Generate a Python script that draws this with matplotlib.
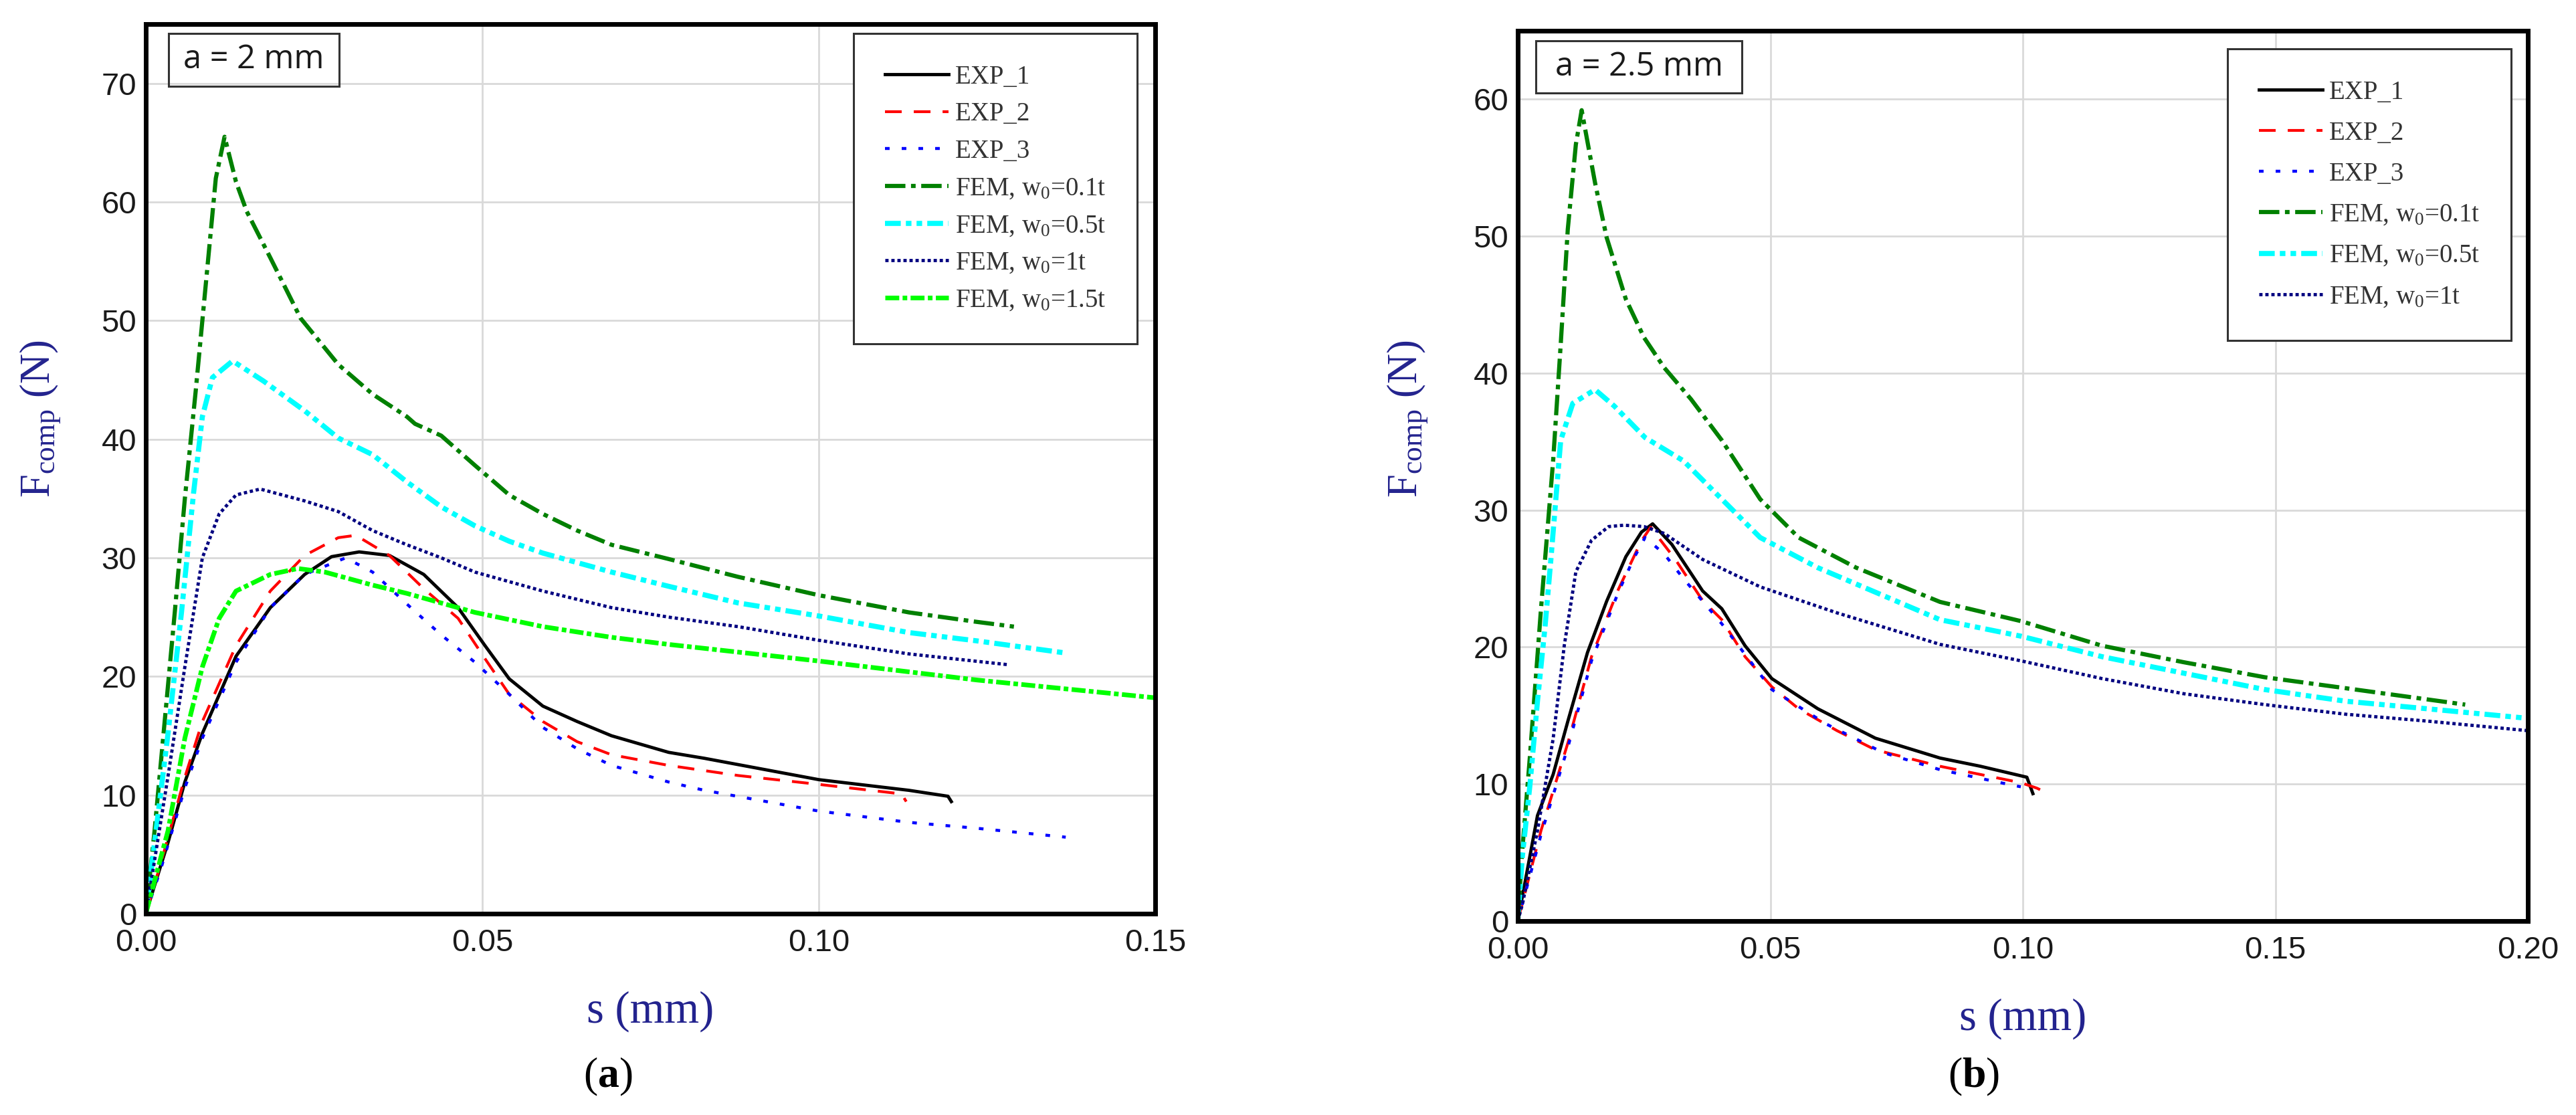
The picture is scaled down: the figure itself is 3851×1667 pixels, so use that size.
import matplotlib
matplotlib.use("Agg")
import matplotlib.pyplot as plt
from matplotlib.patches import Rectangle

plt.rcParams['lines.scale_dashes'] = False
plt.rcParams['mathtext.fontset'] = 'custom'
plt.rcParams['mathtext.rm'] = 'Liberation Serif'
plt.rcParams['mathtext.it'] = 'Liberation Serif:italic'
plt.rcParams['mathtext.bf'] = 'Liberation Serif:bold'

# ---- panel (a): a = 2 mm ----
a_exp1_s = [0, 0.0023, 0.0033, 0.0058, 0.0084, 0.0134, 0.0185, 0.0236, 0.0276, 0.0317, 0.0362, 0.0413,
            0.0464, 0.0504, 0.054, 0.059, 0.0641, 0.0692, 0.0777, 0.083, 0.100, 0.1134, 0.1192, 0.1197]
a_exp1_F = [0, 4.2, 6.0, 11.1, 15.2, 21.7, 25.8, 28.6, 30.1, 30.5, 30.2, 28.6,
            25.8, 22.6, 19.8, 17.5, 16.2, 15.0, 13.6, 13.1, 11.3, 10.4, 9.9, 9.45]

a_exp2_s = [0, 0.0023, 0.0058, 0.0084, 0.0134, 0.0185, 0.0236, 0.0286, 0.0312, 0.0362, 0.0413,
            0.0464, 0.0504, 0.054, 0.059, 0.0641, 0.0692, 0.0777, 0.088, 0.100, 0.1123, 0.113]
a_exp2_F = [0, 4.4, 11.5, 16.2, 22.6, 27.2, 30.2, 31.7, 31.9, 30.2, 27.4,
            24.9, 21.5, 18.5, 16.2, 14.5, 13.4, 12.5, 11.65, 10.9, 10.1, 9.45]

a_exp3_s = [0, 0.0023, 0.0058, 0.0084, 0.0134, 0.0185, 0.0236, 0.0297, 0.0337, 0.0388, 0.0439,
            0.0489, 0.054, 0.059, 0.0641, 0.0692, 0.0777, 0.083, 0.100, 0.1134, 0.1235, 0.1367]
a_exp3_F = [0, 3.9, 10.6, 14.8, 21.2, 25.8, 28.6, 30.0, 28.8, 26.1, 23.5,
            21.2, 18.5, 15.7, 13.9, 12.5, 11.1, 10.4, 8.65, 7.7, 7.2, 6.45]

a_fem01_s = [0, 0.0013, 0.0028, 0.0043, 0.0058, 0.0074, 0.0089, 0.0104, 0.0117, 0.0134, 0.0150, 0.0185,
             0.0230, 0.0286, 0.0337, 0.0388, 0.0400, 0.0439, 0.0489, 0.054, 0.059, 0.0641, 0.0692,
             0.0777, 0.088, 0.100, 0.1134, 0.1235, 0.129]
a_fem01_F = [0, 7, 16.2, 25.4, 35, 44, 53, 62, 65.5, 61.7, 59.2, 55.3,
             50.2, 46.3, 43.8, 41.9, 41.3, 40.3, 37.8, 35.3, 33.7, 32.3, 31.1,
             29.9, 28.4, 26.85, 25.4, 24.6, 24.2]

a_fem05_s = [0, 0.0013, 0.0033, 0.0053, 0.0071, 0.0084, 0.0099, 0.0129, 0.0175, 0.0236, 0.0286, 0.0337,
             0.0388, 0.0439, 0.0489, 0.054, 0.059, 0.0692, 0.0777, 0.088, 0.100, 0.1134, 0.1235, 0.1364]
a_fem05_F = [0, 6.0, 15.2, 25.4, 35.5, 41.9, 45.2, 46.6, 44.9, 42.4, 40.1, 38.7,
             36.4, 34.3, 32.7, 31.4, 30.4, 28.8, 27.6, 26.2, 25.1, 23.7, 23.0, 22.0]

a_fem1_s = [0, 0.0013, 0.0033, 0.0058, 0.0084, 0.0109, 0.0134, 0.017, 0.0236, 0.0286, 0.0337,
            0.0388, 0.0439, 0.0489, 0.059, 0.0692, 0.0777, 0.088, 0.100, 0.1134, 0.128]
a_fem1_F = [0, 4.5, 11.6, 20.8, 30.0, 33.7, 35.3, 35.8, 34.8, 33.9, 32.3,
            31.1, 30.0, 28.8, 27.2, 25.8, 25.0, 24.2, 23.05, 21.9, 21.0]

a_fem15_s = [0, 0.0033, 0.0058, 0.0084, 0.0109, 0.0134, 0.0185, 0.0226, 0.0266, 0.0337, 0.0388,
             0.0489, 0.059, 0.0692, 0.0777, 0.100, 0.1235, 0.150]
a_fem15_F = [0, 7.0, 14.8, 20.8, 24.9, 27.2, 28.6, 29.1, 28.8, 27.7, 27.0,
             25.4, 24.2, 23.3, 22.7, 21.3, 19.7, 18.2]

# ---- panel (b): a = 2.5 mm ----
b_exp1_s = [0, 0.0039, 0.0070, 0.0100, 0.0138, 0.0176, 0.0214, 0.0245, 0.0267, 0.0305, 0.0366,
            0.0404, 0.045, 0.0503, 0.0594, 0.0708, 0.0836, 0.0916, 0.1008, 0.102]
b_exp1_F = [0, 7.7, 10.7, 14.7, 19.6, 23.35, 26.6, 28.4, 29.0, 27.5, 24.1,
            22.8, 20.1, 17.7, 15.5, 13.35, 11.9, 11.3, 10.5, 9.3]

b_exp2_s = [0, 0.0046, 0.0100, 0.0146, 0.0199, 0.0244, 0.0263, 0.0312, 0.0366, 0.0404, 0.045,
            0.0503, 0.0556, 0.0632, 0.0708, 0.0836, 0.0996, 0.1028, 0.1045]
b_exp2_F = [0, 6.6, 13.1, 19.3, 24.2, 27.7, 28.75, 26.4, 23.4, 22.0, 19.3,
            17.1, 15.5, 13.9, 12.5, 11.3, 10.1, 9.7, 9.4]

b_exp3_s = [0, 0.0046, 0.0100, 0.0146, 0.0199, 0.0230, 0.0252, 0.0290, 0.0328, 0.0404, 0.0503,
            0.061, 0.0723, 0.0836, 0.0956, 0.0996]
b_exp3_F = [0, 6.3, 12.8, 19.0, 24.0, 26.5, 28.0, 26.8, 25.0, 21.7, 16.9,
            14.4, 12.3, 11.05, 10.1, 9.8]

b_fem01_s = [0, 0.0009, 0.0024, 0.0035, 0.0046, 0.0058, 0.007, 0.0085, 0.0099, 0.0115, 0.01265, 0.0153,
             0.0176, 0.0214, 0.025, 0.029, 0.0343, 0.0404, 0.048, 0.0556, 0.067, 0.0836, 0.0996,
             0.1157, 0.1318, 0.1479, 0.1639, 0.1876]
b_fem01_F = [0, 5.2, 12.0, 17.4, 22.8, 28.2, 33.6, 42.1, 50.5, 56.7, 59.2, 53.9,
             49.9, 45.4, 42.6, 40.4, 38.1, 35.1, 30.8, 28.0, 25.8, 23.3, 21.9,
             20.1, 18.9, 17.8, 17.0, 15.8]

b_fem05_s = [0, 0.0009, 0.0024, 0.0039, 0.0054, 0.0066, 0.0085, 0.0109, 0.0153, 0.0191, 0.0252, 0.0328,
             0.0404, 0.048, 0.0594, 0.0836, 0.0996, 0.1157, 0.1318, 0.1479, 0.1639, 0.18, 0.2]
b_fem05_F = [0, 4.7, 9.9, 16.05, 21.5, 26.6, 35.1, 37.8, 38.8, 37.6, 35.3, 33.6,
             30.8, 28.0, 25.8, 22.0, 20.8, 19.3, 18.1, 16.9, 16.05, 15.5, 14.8]

b_fem1_s = [0, 0.0009, 0.0039, 0.007, 0.0092, 0.0115, 0.0146, 0.018, 0.021, 0.025, 0.029, 0.0366,
            0.048, 0.0632, 0.0836, 0.0996, 0.1157, 0.1318, 0.1479, 0.1639, 0.18, 0.2]
b_fem1_F = [0, 1.2, 6.6, 13.3, 20.1, 25.5, 27.8, 28.8, 28.9, 28.8, 28.3, 26.4,
            24.4, 22.5, 20.2, 19.0, 17.7, 16.6, 15.8, 15.1, 14.6, 13.9]

labels = ['EXP_1', 'EXP_2', 'EXP_3', 'FEM, w$_0$=0.1t', 'FEM, w$_0$=0.5t', 'FEM, w$_0$=1t', 'FEM, w$_0$=1.5t']

# line styles (dashes in points)
styles = [
    dict(color='black', lw=3.5, ls='-'),
    dict(color='#ff0000', lw=3.0, dashes=(18, 13)),
    dict(color='#0000ff', lw=3.2, dashes=(5, 13)),
    dict(color='#008000', lw=4.5, dashes=(22, 6, 5, 6)),
    dict(color='#00ffff', lw=5.5, dashes=(17, 5.5, 6, 5.5, 6, 5.5)),
    dict(color='#000080', lw=3.5, dashes=(3.5, 3.0)),
    dict(color='#00ff00', lw=5.0, dashes=(15, 3.6, 5, 3.6)),
]

navy = '#23238e'


def style_axes(ax, xmax, ymax, xstep, ystep, box_text, box_rect, leg_anchor, leg_space):
    ax.set_xlim(0, xmax)
    ax.set_ylim(0, ymax)
    ax.set_xticks([i * xstep for i in range(int(round(xmax / xstep)) + 1)])
    ax.set_yticks([i * ystep for i in range(int(ymax // ystep) + 1)])
    ax.set_xticklabels(['%.2f' % t for t in ax.get_xticks()])
    ax.grid(True, color='#d9d9d9', lw=2.0)
    ax.set_axisbelow(True)
    for sp in ax.spines.values():
        sp.set_linewidth(5)
        sp.set_color('black')
    ax.tick_params(length=0, labelsize=34, labelcolor='#1a1a1a')
    ax.tick_params(axis='x', pad=16)
    ax.tick_params(axis='y', pad=10)
    for lab in ax.get_xticklabels() + ax.get_yticklabels():
        lab.set_fontfamily('Liberation Sans')
    ax.set_xlabel('s (mm)', fontsize=48, color=navy, family='Liberation Serif')
    ax.xaxis.set_label_coords(0.5, -0.087)
    ax.set_ylabel(r'F$_{\mathrm{comp}}$ (N)', fontsize=45, color=navy, family='Liberation Serif')
    ax.yaxis.label.set_va('center')
    # text box in the corner
    x0, y0, w, h = box_rect
    ax.add_patch(Rectangle((x0, y0), w, h, transform=ax.transAxes, fill=False,
                           edgecolor='#333333', lw=2.2, zorder=5))
    ax.text(x0 + w / 2, y0 + h / 2, box_text, transform=ax.transAxes, ha='center', va='center',
            fontsize=35, family='Open Sans', color='#1a1a1a', zorder=6)
    leg = ax.legend(loc='upper right', bbox_to_anchor=leg_anchor, borderaxespad=0,
                    prop={'family': 'Liberation Serif', 'size': 28}, frameon=True, fancybox=False,
                    framealpha=1, edgecolor='#333333', handlelength=2.45, handletextpad=0.25,
                    labelspacing=leg_space, borderpad=1.2)
    leg.get_frame().set_linewidth(2.2)
    for t in leg.get_texts():
        t.set_color('#333333')


fig = plt.figure(figsize=(38.51, 16.67), dpi=100)

ax1 = fig.add_axes([0.05661, 0.18056, 0.39185, 0.79784])
a_series = [(a_exp1_s, a_exp1_F), (a_exp2_s, a_exp2_F), (a_exp3_s, a_exp3_F), (a_fem01_s, a_fem01_F),
            (a_fem05_s, a_fem05_F), (a_fem1_s, a_fem1_F), (a_fem15_s, a_fem15_F)]
for (s, F), lab, st in zip(a_series, labels, styles):
    ax1.plot(s, F, label=lab, **st)
style_axes(ax1, 0.15, 75, 0.05, 10, 'a = 2 mm', (0.0225, 0.930, 0.169, 0.0594), (0.982, 0.9895), 0.48)
ax1.yaxis.set_label_coords(-0.1047, 0.556)

ax2 = fig.add_axes([0.58920, 0.17397, 0.39211, 0.79844])
b_series = [(b_exp1_s, b_exp1_F), (b_exp2_s, b_exp2_F), (b_exp3_s, b_exp3_F), (b_fem01_s, b_fem01_F),
            (b_fem05_s, b_fem05_F), (b_fem1_s, b_fem1_F)]
for (s, F), lab, st in zip(b_series, labels[:6], styles[:6]):
    ax2.plot(s, F, label=lab, **st)
style_axes(ax2, 0.20, 65, 0.05, 10, 'a = 2.5 mm', (0.0179, 0.930, 0.204, 0.0586), (0.9834, 0.9797), 0.62)
ax2.yaxis.set_label_coords(-0.109, 0.564)

fig.text(909 / 3851, 0.034, r'($\mathbf{a}$)', ha='center', va='center', fontsize=46,
         family='Liberation Serif', color='black')
fig.text(2951 / 3851, 0.034, r'($\mathbf{b}$)', ha='center', va='center', fontsize=46,
         family='Liberation Serif', color='black')

fig.savefig('out.png', dpi=100)
